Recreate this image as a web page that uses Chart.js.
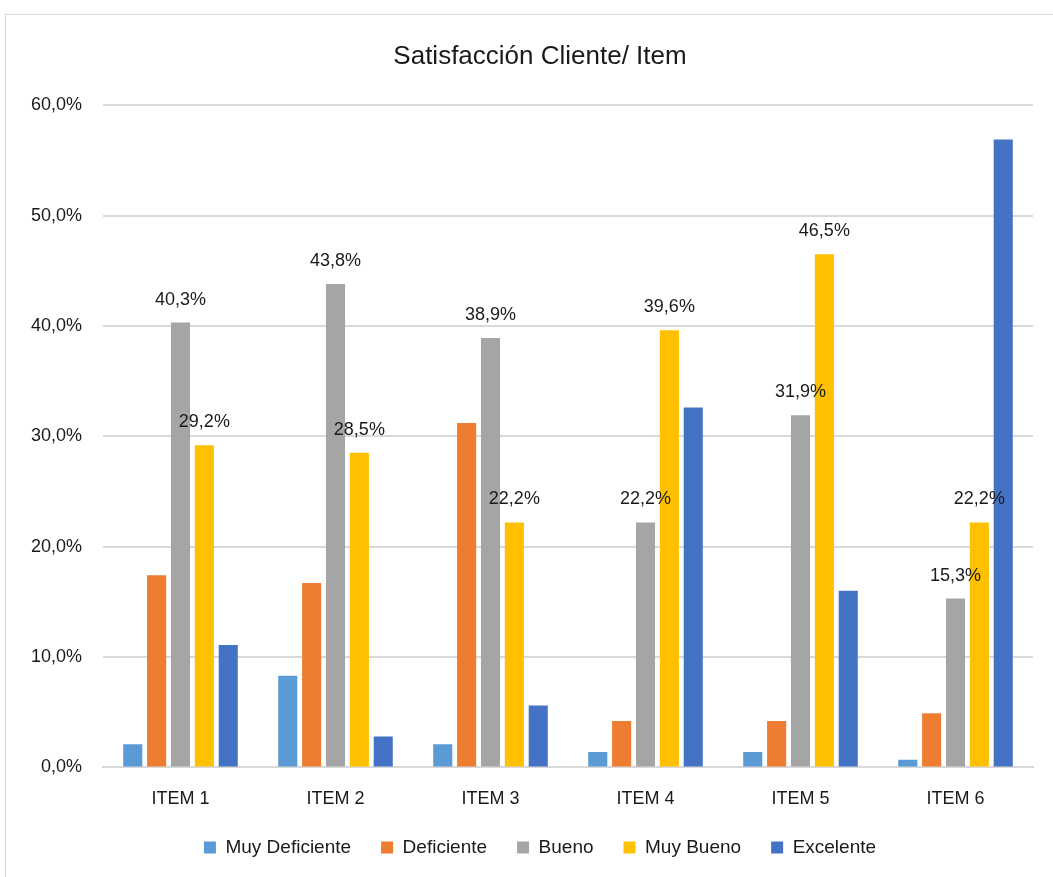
<!DOCTYPE html>
<html lang="es">
<head>
<meta charset="utf-8">
<title>Satisfacción Cliente/ Item</title>
<script src="https://cdn.jsdelivr.net/npm/chart.js@4/dist/chart.umd.min.js"></script>
<style>
  html, body { margin: 0; padding: 0; background: #fff; overflow: hidden; }
  #marco {
    position: absolute; left: 5px; top: 14px; width: 1060px; height: 880px;
    border: 1px solid #d9d9d9; box-sizing: border-box;
  }
  #chartItems { position: absolute; left: 0; top: 0; }
</style>
</head>
<body>
<div id="marco"></div>
<canvas id="chartItems" width="1053" height="877"></canvas>
<script>
const categorias = ['ITEM 1', 'ITEM 2', 'ITEM 3', 'ITEM 4', 'ITEM 5', 'ITEM 6'];
const muyDeficiente = [2.1, 8.3, 2.1, 1.4, 1.4, 0.7];
const deficiente = [17.4, 16.7, 31.2, 4.2, 4.2, 4.9];
const bueno = [40.3, 43.8, 38.9, 22.2, 31.9, 15.3];
const muyBueno = [29.2, 28.5, 22.2, 39.6, 46.5, 22.2];
const excelente = [11.1, 2.8, 5.6, 32.6, 16.0, 56.9];
const ticksY = [0, 10, 20, 30, 40, 50, 60];

const fuente = '"Liberation Sans Narrow", "Arial Narrow", "Liberation Sans", Arial, sans-serif';

function pct(v) {
    return v.toFixed(1).replace('.', ',') + '%';
}

// etiquetas de valor solo para Bueno y Muy Bueno
const etiquetas = {
    id: 'etiquetas',
    afterDatasetsDraw(chart) {
        const ctx = chart.ctx;
        ctx.save();
        ctx.font = '18px ' + fuente;
        ctx.fillStyle = '#1a1a1a';
        ctx.textAlign = 'center';
        ctx.textBaseline = 'bottom';
        chart.data.datasets.forEach((ds, i) => {
            if (!ds.conEtiqueta) return;
            chart.getDatasetMeta(i).data.forEach((bar, j) => {
                ctx.fillText(pct(ds.data[j]), bar.x, bar.y - 14);
            });
        });
        ctx.restore();
    }
};

new Chart(document.getElementById('chartItems'), {
    type: 'bar',
    data: {
        labels: categorias,
        datasets: [
            { label: 'Muy Deficiente', data: muyDeficiente, backgroundColor: '#5B9BD5' },
            { label: 'Deficiente', data: deficiente, backgroundColor: '#ED7D31' },
            { label: 'Bueno', data: bueno, backgroundColor: '#A5A5A5', conEtiqueta: true },
            { label: 'Muy Bueno', data: muyBueno, backgroundColor: '#FFC000', conEtiqueta: true },
            { label: 'Excelente', data: excelente, backgroundColor: '#4472C4' }
        ]
    },
    options: {
        responsive: false,
        animation: false,
        datasets: {
            bar: { barPercentage: 0.8, categoryPercentage: 0.77 }
        },
        // el título y la leyenda se centran sobre 0..1080
        layout: {
            padding: { left: 0, right: -27, top: 0, bottom: 10 }
        },
        plugins: {
            title: {
                display: true,
                text: 'Satisfacción Cliente/ Item',
                color: '#1a1a1a',
                font: { family: fuente, size: 26, weight: 'normal', lineHeight: 1.2 },
                padding: { top: 41, bottom: 33 }
            },
            legend: {
                position: 'bottom',
                labels: {
                    color: '#1a1a1a',
                    font: { family: fuente, size: 19 },
                    boxWidth: 12,
                    boxHeight: 12,
                    padding: 30
                }
            },
            tooltip: { enabled: false }
        },
        scales: {
            x: {
                afterFit(scale) { scale.height -= 15; },
                grid: { display: false },
                border: { color: '#d9d9d9', width: 2 },
                ticks: {
                    color: '#1a1a1a',
                    font: { family: fuente, size: 18 },
                    padding: 13
                }
            },
            y: {
                min: 0,
                max: 60,
                afterFit(scale) { scale.width = 103; },
                afterBuildTicks(scale) {
                    scale.ticks = ticksY.map(v => ({ value: v }));
                },
                grid: { color: '#d9d9d9', lineWidth: 2, drawTicks: false },
                border: { display: false },
                ticks: {
                    color: '#1a1a1a',
                    font: { family: fuente, size: 18 },
                    padding: 21,
                    callback: v => pct(v)
                }
            },
            // eje vacío a la derecha: solo reserva margen
            yDer: {
                position: 'right',
                afterFit(scale) { scale.width = 47; },
                grid: { display: false },
                border: { display: false },
                ticks: { display: false }
            }
        }
    },
    plugins: [etiquetas]
});
</script>
</body>
</html>
